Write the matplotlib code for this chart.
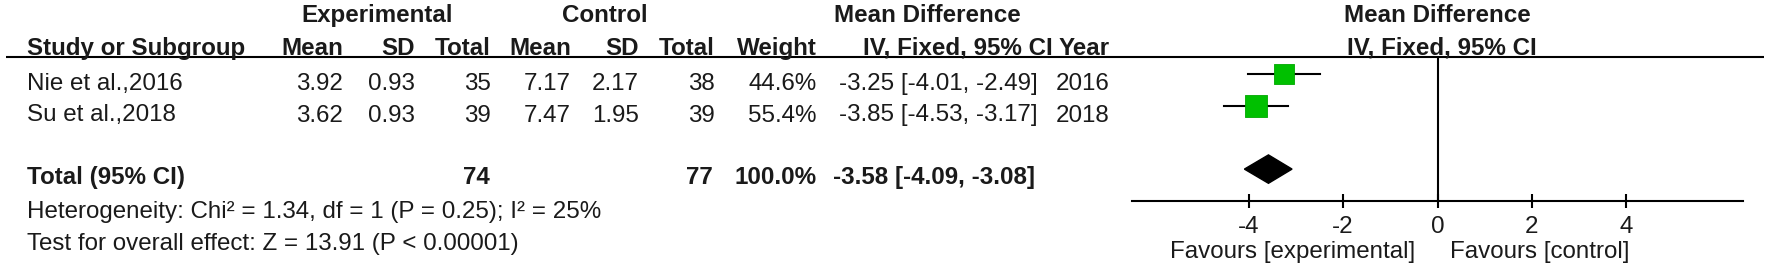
import matplotlib
matplotlib.use("Agg")
import matplotlib.pyplot as plt
from matplotlib.patches import Polygon

# ====================================
# DATA
# ====================================

studies = ["Nie et al.,2016", "Su et al.,2018"]
exp_mean = [3.92, 3.62]
exp_sd = [0.93, 0.93]
exp_n = [35, 39]
ctl_mean = [7.17, 7.47]
ctl_sd = [2.17, 1.95]
ctl_n = [38, 39]
weights = [44.6, 55.4]
md = [-3.25, -3.85]
md_lo = [-4.01, -4.53]
md_hi = [-2.49, -3.17]
years = [2016, 2018]

total_exp_n = 74
total_ctl_n = 77
total_weight = 100.0
total_md = -3.58
total_lo = -4.09
total_hi = -3.08

heterogeneity = "Heterogeneity: Chi² = 1.34, df = 1 (P = 0.25); I² = 25%"
overall = "Test for overall effect: Z = 13.91 (P < 0.00001)"

xticks = [-4, -2, 0, 2, 4]
xlim = 6.47

# ====================================
# FIGURE SETUP
# ====================================

plt.rcParams['font.family'] = ['Liberation Sans', 'DejaVu Sans']
plt.rcParams['axes.unicode_minus'] = False
FS = 17.4
TXT = '#1a1a1a'

W, H = 1772, 274
fig = plt.figure(figsize=(W / 100, H / 100), dpi=100)

# table axes in pixel layout
ax = fig.add_axes([0, 0, 1, 1])
ax.set_xlim(0, W)
ax.set_ylim(H, 0)
ax.axis('off')

# forest plot axes
fx_left, fx_right, fx_top, fx_bot = 1132, 1743, 57, 201
fx = fig.add_axes([fx_left / W, (H - fx_bot) / H,
                   (fx_right - fx_left) / W, (fx_bot - fx_top) / H])
row0, row_h = 74, 31.7
fx.set_xlim(-xlim, xlim)
fx.set_ylim((fx_bot - row0) / row_h, (fx_top - row0) / row_h)
fx.patch.set_alpha(0)

# ====================================
# TABLE TEXT
# ====================================

def put(x, y, s, ha='right', bold=False):
    ax.text(x, y, s, ha=ha, va='baseline', fontsize=FS, color=TXT,
            fontweight='bold' if bold else 'normal')

# group headers
put(377, 22, "Experimental", ha='center', bold=True)
put(605, 22, "Control", ha='center', bold=True)
put(927, 22, "Mean Difference", ha='center', bold=True)
put(1437, 22, "Mean Difference", ha='center', bold=True)

cols = [343, 415, 491, 571, 639, 715, 817, 1038, 1110]
heads = ["Mean", "SD", "Total", "Mean", "SD", "Total", "Weight"]
put(27, 55, "Study or Subgroup", ha='left', bold=True)
for x, h in zip(cols[:7], heads):
    put(x, 55, h, bold=True)
put(1053, 55, "IV, Fixed, 95% CI", bold=True)
put(cols[8], 55, "Year", bold=True)
put(1442, 55, "IV, Fixed, 95% CI", ha='center', bold=True)

ax.plot([6, 1764], [57, 57], color='black', lw=1.5, solid_capstyle='butt')

# study rows
for i, name in enumerate(studies):
    y = 90 + 31.5 * i
    put(27, y, name, ha='left')
    vals = [f"{exp_mean[i]:.2f}", f"{exp_sd[i]:.2f}", f"{exp_n[i]}",
            f"{ctl_mean[i]:.2f}", f"{ctl_sd[i]:.2f}", f"{ctl_n[i]}",
            f"{weights[i]:.1f}%",
            f"{md[i]:.2f} [{md_lo[i]:.2f}, {md_hi[i]:.2f}]",
            f"{years[i]}"]
    for x, v in zip(cols, vals):
        put(x, y, v)

# total row
put(27, 184, "Total (95% CI)", ha='left', bold=True)
put(490, 184, f"{total_exp_n}", bold=True)
put(713, 184, f"{total_ctl_n}", bold=True)
put(817, 184, f"{total_weight:.1f}%", bold=True)
put(1035, 184, f"{total_md:.2f} [{total_lo:.2f}, {total_hi:.2f}]", bold=True)

put(27, 218, heterogeneity, ha='left')
put(27, 250, overall, ha='left')

put(1415, 258, "Favours [experimental]")
put(1450, 258, "Favours [control]", ha='left')

# ====================================
# FOREST PLOT
# ====================================

for i in range(len(studies)):
    fx.plot([md_lo[i], md_hi[i]], [i, i], color='black', lw=1.5, zorder=2)
fx.scatter(md, range(len(studies)), marker='s',
           s=[4.4 * w for w in weights], color='#00c000',
           edgecolors='#00a800', linewidths=0.6, zorder=3)

yt = 3
hh = 14.2 / row_h
fx.add_patch(Polygon([[total_lo, yt], [total_md, yt - hh],
                      [total_hi, yt], [total_md, yt + hh]],
                     closed=True, color='black', zorder=3))

fx.axvline(0, color='black', lw=1.5)

for side in ['top', 'right', 'left']:
    fx.spines[side].set_visible(False)
fx.spines['bottom'].set_linewidth(1.5)
fx.set_yticks([])
fx.set_xticks(xticks)
fx.set_xticklabels([str(t) for t in xticks])
fx.tick_params(axis='x', direction='inout', length=10, width=1.5,
               pad=6, labelsize=FS, labelcolor=TXT)

fig.savefig("out.png", dpi=100)
